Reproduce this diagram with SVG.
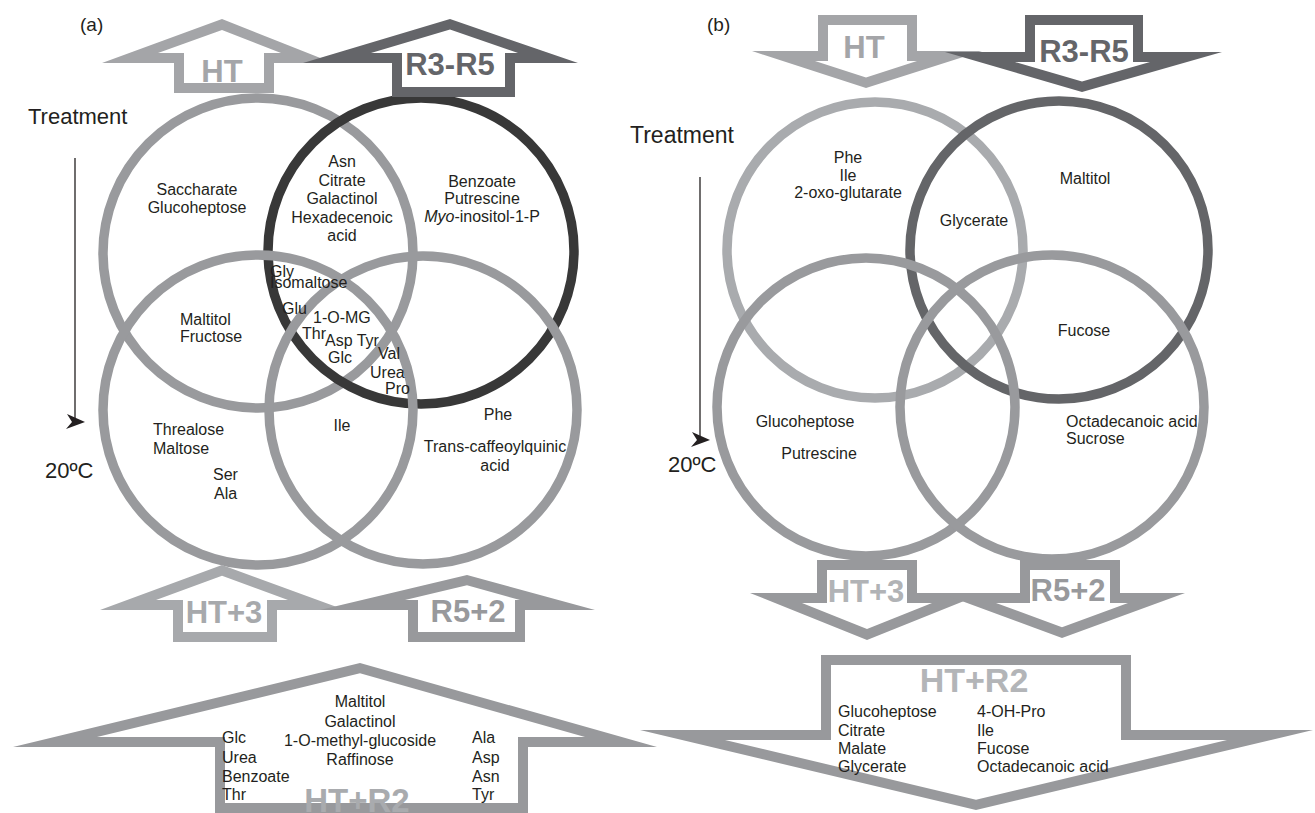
<svg xmlns="http://www.w3.org/2000/svg" width="1315" height="813" viewBox="0 0 1315 813">
<style>
.t{font-family:"Liberation Sans",Arial,sans-serif;font-size:16px;fill:#231f20}
.c{text-anchor:middle}
.b{font-family:"Liberation Sans",Arial,sans-serif;font-weight:bold;font-size:31px;text-anchor:middle}
.big{font-family:"Liberation Sans",Arial,sans-serif;font-size:22px;fill:#231f20}
.ring{fill:none;stroke-width:9.5}
.arr{fill-rule:evenodd}
</style>
<rect width="1315" height="813" fill="#fff"/>
<text class="big" x="80" y="31" style="font-size:19px">(a)</text>
<text class="big" x="707" y="31" style="font-size:19px">(b)</text>

<!-- Panel a venn -->
<g id="a-venn">
<circle id="a-c-ht" class="ring" cx="258" cy="253" r="155" stroke="#999a9d"/>
<circle id="a-c-r3r5" class="ring" cx="421" cy="251" r="153" stroke="#383838"/>
<circle id="a-c-ht3" class="ring" cx="258" cy="410" r="155" stroke="#999a9d"/>
<circle id="a-c-r52" class="ring" cx="423" cy="410" r="154" stroke="#999a9d"/>
</g>

<!-- Panel b venn -->
<g id="b-venn">
<circle id="b-c-ht" class="ring" cx="875" cy="250" r="148" stroke="#a9abae"/>
<circle id="b-c-r3r5" class="ring" cx="1059" cy="250" r="149" stroke="#646568"/>
<circle id="b-c-ht3" class="ring" cx="866" cy="407" r="149" stroke="#999a9d"/>
<circle id="b-c-r52" class="ring" cx="1052" cy="407" r="152" stroke="#999a9d"/>
</g>

<!-- Panel a arrows -->
<g id="a-arrow-ht">
<path class="arr" fill="#a4a5a8" d="M222,19 L333,63 L274,63 L274,93 L174,93 L174,63 L102,63 Z M222,30 L281,53 L264,53 L264,83 L184,83 L184,53 L158,53 Z"/>
<text class="b" x="222" y="82" fill="#a4a5a8">HT</text>
</g>
<g id="a-arrow-r3r5">
<path class="arr" fill="#646569" d="M450,19 L578,63 L515,63 L515,97 L392,97 L392,63 L303,63 Z M450,29.4 L518,53 L505,53 L505,87 L402,87 L402,53 L371,53 Z"/>
<text class="b" x="450" y="75" fill="#646569">R3-R5</text>
</g>
<g id="a-arrow-ht3">
<path class="arr" fill="#a7a9ac" d="M222,565 L345,610 L277,610 L277,642 L173,642 L173,610 L100,610 Z M222,575.7 L288,600 L267,600 L267,632 L183,632 L183,600 L156,600 Z"/>
<text class="b" x="224" y="623" fill="#a7a9ac">HT+3</text>
</g>
<g id="a-arrow-r52">
<path class="arr" fill="#98999c" d="M467,575 L595,610 L525,610 L525,642 L408,642 L408,610 L320,610 Z M467,585.3 L520,600 L515,600 L515,632 L418,632 L418,600 L405,600 Z"/>
<text class="b" x="468" y="622" fill="#98999c">R5+2</text>
</g>

<!-- Panel b arrows -->
<g id="b-arrow-ht">
<path class="arr" fill="#a4a5a8" d="M818,15 L917,15 L917,51 L982,51 L866,88 L752,51 L818,51 Z M828,25 L907,25 L907,61 L917,61 L866,77.5 L815,61 L828,61 Z"/>
<text class="b" x="864" y="58" fill="#a4a5a8">HT</text>
</g>
<g id="b-arrow-r3r5">
<path class="arr" fill="#646569" d="M1025,15 L1143,15 L1143,52 L1222,52 L1082,92 L945,52 L1025,52 Z M1035,25 L1133,25 L1133,62 L1150,62 L1082,81.6 L1015,62 L1035,62 Z"/>
<text class="b" x="1084" y="62" fill="#646569">R3-R5</text>
</g>
<g id="b-arrow-ht3">
<path class="arr" fill="#98999c" d="M817,560 L917,560 L917,593 L984,593 L867,640 L750,593 L817,593 Z M827,570 L907,570 L907,603 L932,603 L867,629 L802,603 L827,603 Z"/>
<text class="b" x="866" y="602" fill="#b1b3b6">HT+3</text>
</g>
<g id="b-arrow-r52">
<path class="arr" fill="#98999c" d="M1020,560 L1120,560 L1120,593 L1185,593 L1062,638 L940,593 L1020,593 Z M1030,570 L1110,570 L1110,603 L1128,603 L1062,627.3 L996,603 L1030,603 Z"/>
<text class="b" x="1068" y="601" fill="#98999c">R5+2</text>
</g>

<!-- Big arrows -->
<g id="a-arrow-htr2">
<path class="arr" fill="#98999c" d="M360,663 L657,747 L528,747 L528,813 L215,813 L215,747 L13,747 Z M360,673.3 L585,737 L518,737 L518,803 L225,803 L225,737 L97,737 Z"/>
<text class="b" x="357" y="812" fill="#a9abae" style="font-size:33px">HT+R2</text>
</g>
<g id="b-arrow-htr2">
<path class="arr" fill="#98999c" d="M821,655 L1131,655 L1131,730 L1313,730 L976,810 L640,730 L821,730 Z M831,665 L1121,665 L1121,740 L1227,740 L976,799.7 L725,740 L831,740 Z"/>
<text class="b" x="974" y="692" fill="#b3b5b8" style="font-size:34px">HT+R2</text>
</g>

<!-- Treatment connectors -->
<g id="connectors">
<line x1="75" y1="158" x2="75" y2="420" stroke="#231f20" stroke-width="1.3"/>
<path d="M67,414 L85,422 L66,429 L72,422 Z" fill="#231f20"/>
<line x1="700" y1="177" x2="700" y2="437" stroke="#231f20" stroke-width="1.3"/>
<path d="M692,432 L710,440 L691,447 L697,440 Z" fill="#231f20"/>
</g>

<g id="labels-a">
<text class="big" x="28" y="124">Treatment</text>
<text class="big" x="45" y="478">20ºC</text>
<text class="t c" x="197" y="195">Saccharate</text>
<text class="t c" x="197" y="213">Glucoheptose</text>
<text class="t c" x="342" y="167">Asn</text>
<text class="t c" x="342" y="186">Citrate</text>
<text class="t c" x="342" y="204">Galactinol</text>
<text class="t c" x="342" y="223">Hexadecenoic</text>
<text class="t c" x="342" y="241">acid</text>
<text class="t c" x="482" y="187">Benzoate</text>
<text class="t c" x="482" y="204">Putrescine</text>
<text class="t c" x="482" y="222"><tspan font-style="italic">Myo</tspan>-inositol-1-P</text>
<text class="t" x="270" y="277">Gly</text>
<text class="t" x="270" y="288">Isomaltose</text>
<text class="t" x="282" y="314">Glu</text>
<text class="t" x="313" y="323">1-O-MG</text>
<text class="t" x="302" y="339">Thr</text>
<text class="t" x="325" y="346">Asp Tyr</text>
<text class="t" x="328" y="363">Glc</text>
<text class="t" x="378" y="359">Val</text>
<text class="t" x="370" y="378">Urea</text>
<text class="t" x="385" y="394">Pro</text>
<text class="t" x="180" y="325">Maltitol</text>
<text class="t" x="180" y="342">Fructose</text>
<text class="t" x="153" y="435">Threalose</text>
<text class="t" x="153" y="454">Maltose</text>
<text class="t" x="213" y="480">Ser</text>
<text class="t" x="214" y="499">Ala</text>
<text class="t c" x="342" y="431">Ile</text>
<text class="t c" x="498" y="420">Phe</text>
<text class="t c" x="495" y="452">Trans-caffeoylquinic</text>
<text class="t c" x="495" y="471">acid</text>
</g>

<g id="labels-b">
<text class="big" x="630" y="143" style="font-size:23px">Treatment</text>
<text class="big" x="668" y="472">20ºC</text>
<text class="t c" x="848" y="163">Phe</text>
<text class="t c" x="848" y="181">Ile</text>
<text class="t c" x="848" y="198">2-oxo-glutarate</text>
<text class="t c" x="974" y="226">Glycerate</text>
<text class="t c" x="1085" y="184">Maltitol</text>
<text class="t c" x="1084" y="336">Fucose</text>
<text class="t c" x="805" y="427">Glucoheptose</text>
<text class="t c" x="819" y="459">Putrescine</text>
<text class="t" x="1066" y="427">Octadecanoic acid</text>
<text class="t" x="1066" y="444">Sucrose</text>
</g>

<g id="labels-htr2-a">
<text class="t c" x="360" y="707">Maltitol</text>
<text class="t c" x="360" y="727">Galactinol</text>
<text class="t c" x="360" y="746">1-O-methyl-glucoside</text>
<text class="t c" x="360" y="765">Raffinose</text>
<text class="t" x="222" y="743">Glc</text>
<text class="t" x="222" y="763">Urea</text>
<text class="t" x="222" y="782">Benzoate</text>
<text class="t" x="222" y="800">Thr</text>
<text class="t" x="472" y="743">Ala</text>
<text class="t" x="472" y="763">Asp</text>
<text class="t" x="472" y="782">Asn</text>
<text class="t" x="472" y="800">Tyr</text>
</g>

<g id="labels-htr2-b">
<text class="t" x="838" y="717">Glucoheptose</text>
<text class="t" x="838" y="736">Citrate</text>
<text class="t" x="838" y="754">Malate</text>
<text class="t" x="838" y="772">Glycerate</text>
<text class="t" x="977" y="717">4-OH-Pro</text>
<text class="t" x="977" y="736">Ile</text>
<text class="t" x="977" y="754">Fucose</text>
<text class="t" x="977" y="772">Octadecanoic acid</text>
</g>
</svg>
